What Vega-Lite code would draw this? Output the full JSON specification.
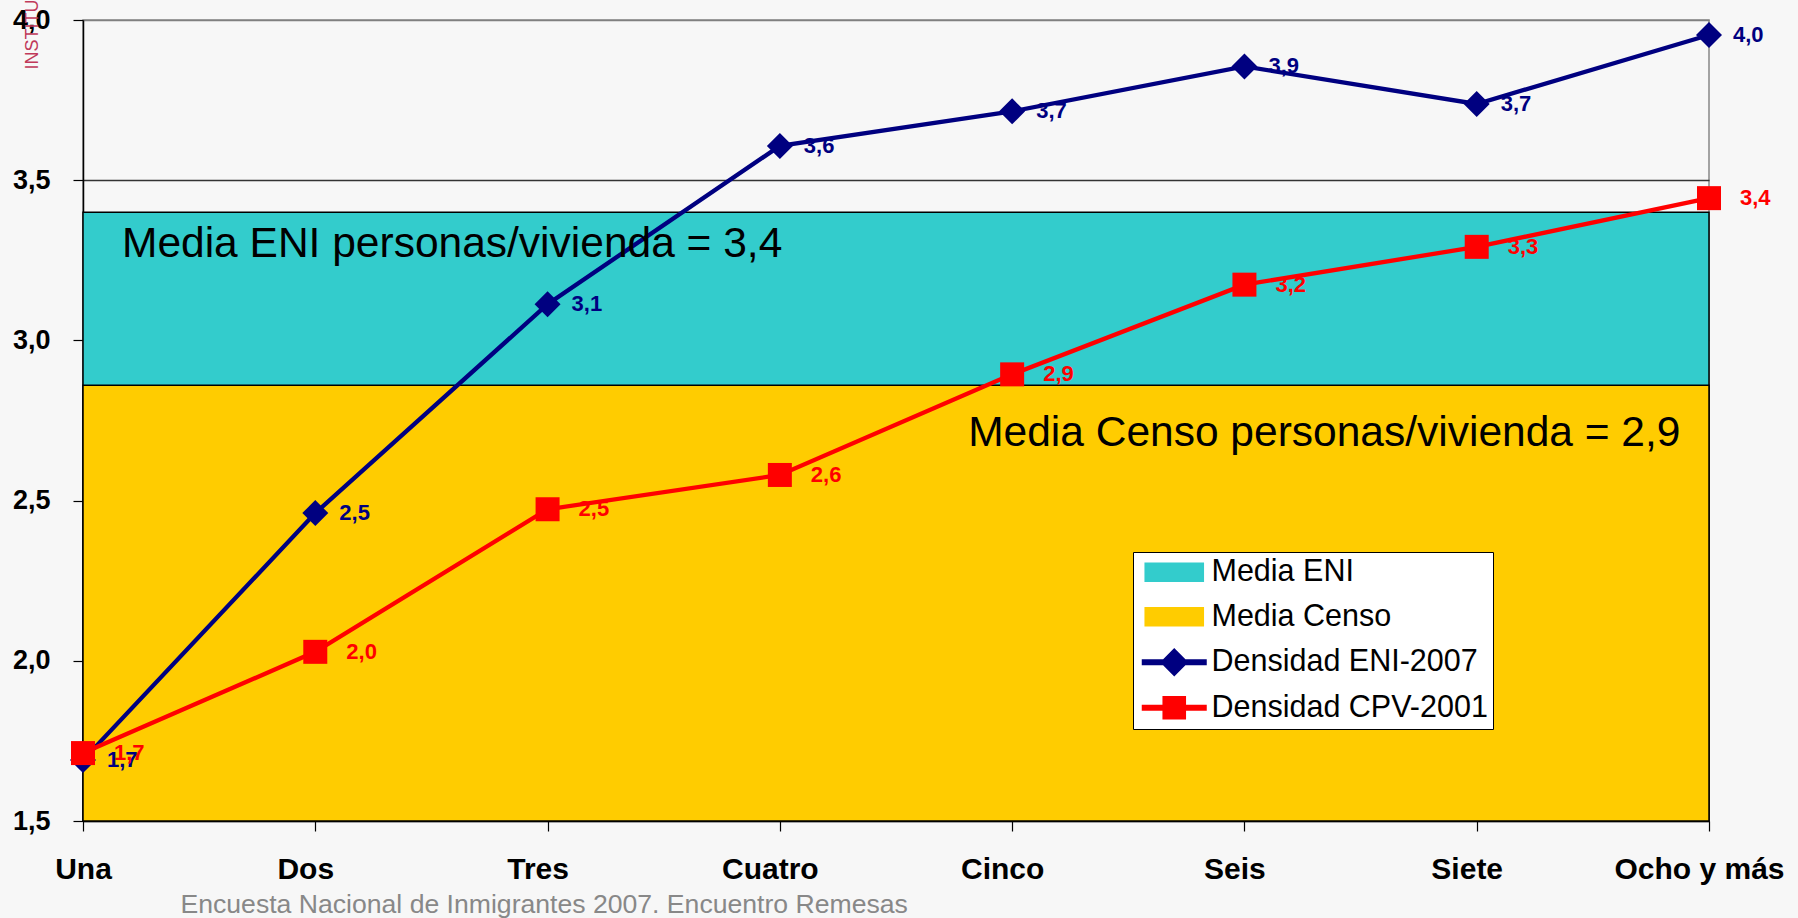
{
  "$schema": "https://vega.github.io/schema/vega-lite/v6.json",
  "width": 1626,
  "height": 801,
  "autosize": {"type": "none"},
  "padding": {"left": 83, "top": 20, "right": 89, "bottom": 97},
  "background": "#f7f7f7",
  "config": {
    "font": "Liberation Sans",
    "locale": {"number": {"decimal": ",", "thousands": ".", "grouping": [3], "currency": ["", " €"]}},
    "view": {"stroke": "#888888", "strokeWidth": 1.5, "fill": null}
  },
  "datasets": {
    "dens": [
      {"cat": "Una", "series": "Densidad ENI-2007", "value": 1.69},
      {"cat": "Dos", "series": "Densidad ENI-2007", "value": 2.461},
      {"cat": "Tres", "series": "Densidad ENI-2007", "value": 3.113},
      {"cat": "Cuatro", "series": "Densidad ENI-2007", "value": 3.607},
      {"cat": "Cinco", "series": "Densidad ENI-2007", "value": 3.715},
      {"cat": "Seis", "series": "Densidad ENI-2007", "value": 3.855},
      {"cat": "Siete", "series": "Densidad ENI-2007", "value": 3.738},
      {"cat": "Ocho y más", "series": "Densidad ENI-2007", "value": 3.953},
      {"cat": "Una", "series": "Densidad CPV-2001", "value": 1.712},
      {"cat": "Dos", "series": "Densidad CPV-2001", "value": 2.028},
      {"cat": "Tres", "series": "Densidad CPV-2001", "value": 2.473},
      {"cat": "Cuatro", "series": "Densidad CPV-2001", "value": 2.58},
      {"cat": "Cinco", "series": "Densidad CPV-2001", "value": 2.894},
      {"cat": "Seis", "series": "Densidad CPV-2001", "value": 3.174},
      {"cat": "Siete", "series": "Densidad CPV-2001", "value": 3.292},
      {"cat": "Ocho y más", "series": "Densidad CPV-2001", "value": 3.444}
    ],
    "bands": [
      {"series": "Media ENI", "value": 3.4},
      {"series": "Media Censo", "value": 2.86}
    ]
  },
  "encoding": {
    "color": {
      "field": "series",
      "type": "nominal",
      "scale": {
        "domain": ["Media ENI", "Media Censo", "Densidad ENI-2007", "Densidad CPV-2001"],
        "range": ["#33CCCC", "#FFCC00", "#000080", "#FF0000"]
      },
      "legend": {
        "title": null,
        "orient": "none",
        "legendX": 1050,
        "legendY": 532,
        "fillColor": "#ffffff",
        "strokeColor": "#000000",
        "padding": 5,
        "labelFont": "Liberation Sans",
        "labelFontSize": 30.5,
        "labelColor": "#000000",
        "labelLimit": 500,
        "labelOffset": 22,
        "symbolOffset": 21,
        "rowPadding": 13.5,
        "symbolSize": 400,
        "symbolStrokeWidth": 1.3,
        "encode": {
          "symbols": {
            "update": {
              "shape": {"signal": "datum.value === 'Densidad ENI-2007' ? 'M-3.17,-0.22H3.17V0.22H-3.17Z M-1.3,0L0,-1.3L1.3,0L0,1.3Z' : datum.value === 'Densidad CPV-2001' ? 'M-3.17,-0.22H3.17V0.22H-3.17Z M-1.1,-1.1H1.1V1.1H-1.1Z' : 'M-2.9,-0.9H2.9V0.9H-2.9Z'"},
              "fill": {"signal": "scale('color', datum.value)"},
              "stroke": {"signal": "datum.value === 'Media ENI' || datum.value === 'Media Censo' ? '#000000' : 'transparent'"},
              "strokeWidth": {"value": 1.6},
              "size": {"value": 400},
              "opacity": {"value": 1}
            }
          }
        }
      }
    }
  },
  "layer": [
    {
      "data": {"name": "bands"},
      "mark": {"type": "rect", "stroke": "#000000", "strokeWidth": 1.5},
      "encoding": {
        "y": {
          "field": "value",
          "type": "quantitative",
          "scale": {"domain": [1.5, 4.0], "nice": false, "zero": false},
          "axis": {
            "values": [1.5, 2, 2.5, 3, 3.5, 4],
            "format": ".1f",
            "labelFontSize": 27,
            "labelFontWeight": "bold",
            "labelColor": "#000000",
            "labelPadding": 23,
            "labelBaseline": "middle",
            "tickSize": 10,
            "tickColor": "#000000",
            "tickWidth": 1.2,
            "domainColor": "#000000",
            "domainWidth": 1.5,
            "grid": true,
            "gridColor": {"condition": {"test": "datum.value == 3.5", "value": "#333333"}, "value": "#808080"},
            "gridWidth": 1.3,
            "title": "INSTITUTO",
            "titleColor": "#c0395a",
            "titleFontSize": 18,
            "titleFontWeight": "normal",
            "titleAngle": 270,
            "titleX": -46,
            "titleY": 49,
            "titleAlign": "left",
            "titleBaseline": "alphabetic",
            "titleAnchor": null
          }
        },
        "y2": {"datum": 1.5}
      }
    },
    {
      "data": {"name": "dens"},
      "mark": {"type": "line", "strokeWidth": 4.3},
      "encoding": {
        "x": {
          "field": "cat",
          "type": "ordinal",
          "sort": null,
          "scale": {"type": "point", "padding": 0, "domain": ["Una", "Dos", "Tres", "Cuatro", "Cinco", "Seis", "Siete", "Ocho y más"]},
          "axis": {
            "labelAngle": 0,
            "labelFontSize": 30,
            "labelFontWeight": "bold",
            "labelColor": "#000000",
            "labelBaseline": "alphabetic",
            "labelPadding": 47,
            "labelOffset": {"condition": {"test": "datum.value === 'Una'", "value": 0}, "value": -10},
            "tickSize": 10,
            "tickColor": "#000000",
            "tickWidth": 1.2,
            "domainColor": "#000000",
            "domainWidth": 1.5,
            "grid": false,
            "title": "Encuesta Nacional de Inmigrantes 2007. Encuentro Remesas",
            "titleFontSize": 26.6,
            "titleFontWeight": "normal",
            "titleColor": "#888888",
            "titleX": 97,
            "titleY": 91,
            "titleAlign": "left",
            "titleAnchor": null,
            "titleBaseline": "alphabetic"
          }
        },
        "y": {"field": "value", "type": "quantitative"},
        "detail": {"field": "series"}
      }
    },
    {
      "data": {"name": "dens"},
      "transform": [{"filter": "datum.series === 'Densidad ENI-2007'"}],
      "mark": {"type": "point", "shape": "diamond", "size": 676, "filled": true, "opacity": 1},
      "encoding": {
        "x": {"field": "cat", "type": "ordinal", "sort": null},
        "y": {"field": "value", "type": "quantitative"}
      }
    },
    {
      "data": {"name": "dens"},
      "transform": [{"filter": "datum.series === 'Densidad CPV-2001'"}],
      "mark": {"type": "point", "shape": "square", "size": 576, "filled": true, "opacity": 1},
      "encoding": {
        "x": {"field": "cat", "type": "ordinal", "sort": null},
        "y": {"field": "value", "type": "quantitative"}
      }
    },
    {
      "data": {"name": "dens"},
      "transform": [{"filter": "datum.series === 'Densidad ENI-2007'"}],
      "mark": {"type": "text", "align": "left", "baseline": "middle", "dx": 24, "fontSize": 22, "fontWeight": "bold"},
      "encoding": {
        "x": {"field": "cat", "type": "ordinal", "sort": null},
        "y": {"field": "value", "type": "quantitative"},
        "text": {"field": "value", "type": "quantitative", "format": ".1f"}
      }
    },
    {
      "data": {"name": "dens"},
      "transform": [{"filter": "datum.series === 'Densidad CPV-2001'"}],
      "mark": {"type": "text", "align": "left", "baseline": "middle", "dx": 31, "fontSize": 22, "fontWeight": "bold"},
      "encoding": {
        "x": {"field": "cat", "type": "ordinal", "sort": null},
        "y": {"field": "value", "type": "quantitative"},
        "text": {"field": "value", "type": "quantitative", "format": ".1f"}
      }
    },
    {
      "data": {"values": [{"cat": "Una", "value": 3.4, "label": "Media ENI personas/vivienda = 3,4"}]},
      "mark": {"type": "text", "align": "left", "baseline": "alphabetic", "dx": 39, "dy": 45, "fontSize": 42.5},
      "encoding": {
        "x": {"field": "cat", "type": "ordinal"},
        "y": {"field": "value", "type": "quantitative"},
        "text": {"field": "label"},
        "color": {"value": "#000000"}
      }
    },
    {
      "data": {"values": [{"cat": "Cinco", "value": 2.86, "label": "Media Censo personas/vivienda = 2,9"}]},
      "mark": {"type": "text", "align": "left", "baseline": "alphabetic", "dx": -44, "dy": 61, "fontSize": 42.5},
      "encoding": {
        "x": {"field": "cat", "type": "ordinal"},
        "y": {"field": "value", "type": "quantitative"},
        "text": {"field": "label"},
        "color": {"value": "#000000"}
      }
    }
  ]
}
